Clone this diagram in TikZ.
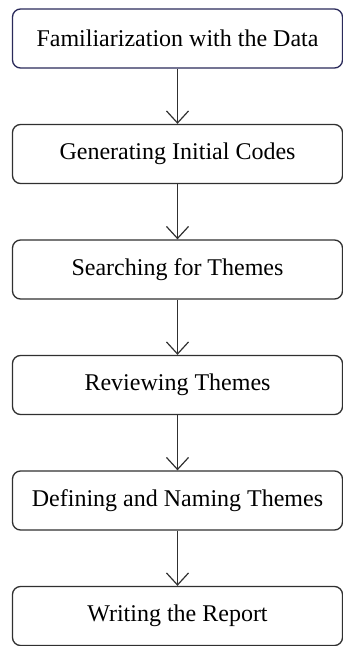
\documentclass[tikz,border=0pt]{standalone}
\usepackage{fontspec}
\setmainfont{Liberation Serif}
\usepackage{tikz}
\usetikzlibrary{arrows.meta}
\definecolor{navyline}{HTML}{2A2A5A}
\definecolor{boxline}{HTML}{303030}

\begin{document}
\begin{tikzpicture}[
    x=1pt, y=1pt,
    box/.style={rectangle, rounded corners=8pt, draw=boxline, line width=1.3pt, fill=white,
                minimum width=330pt, minimum height=59pt, font=\fontsize{24}{28}\selectfont},
    arr/.style={-{Straight Barb[length=12pt, width=22pt, line width=1.2pt]}, line width=1.2pt, boxline}
]
\useasboundingbox (0,0) rectangle (343,-646);

\node[box, draw=navyline] (fam) at (177.5,-38.5) {Familiarization with the Data};
\node[box] (gen) at (177.5,-154.0) {Generating Initial Codes};
\node[box] (search) at (177.5,-269.5) {Searching for Themes};
\node[box] (review) at (177.5,-385.0) {Reviewing Themes};
\node[box] (define) at (177.5,-500.5) {Defining and Naming Themes};
\node[box] (report) at (177.5,-616.0) {Writing the Report};

\draw[arr] (fam) -- (gen);
\draw[arr] (gen) -- (search);
\draw[arr] (search) -- (review);
\draw[arr] (review) -- (define);
\draw[arr] (define) -- (report);
\end{tikzpicture}
\end{document}
